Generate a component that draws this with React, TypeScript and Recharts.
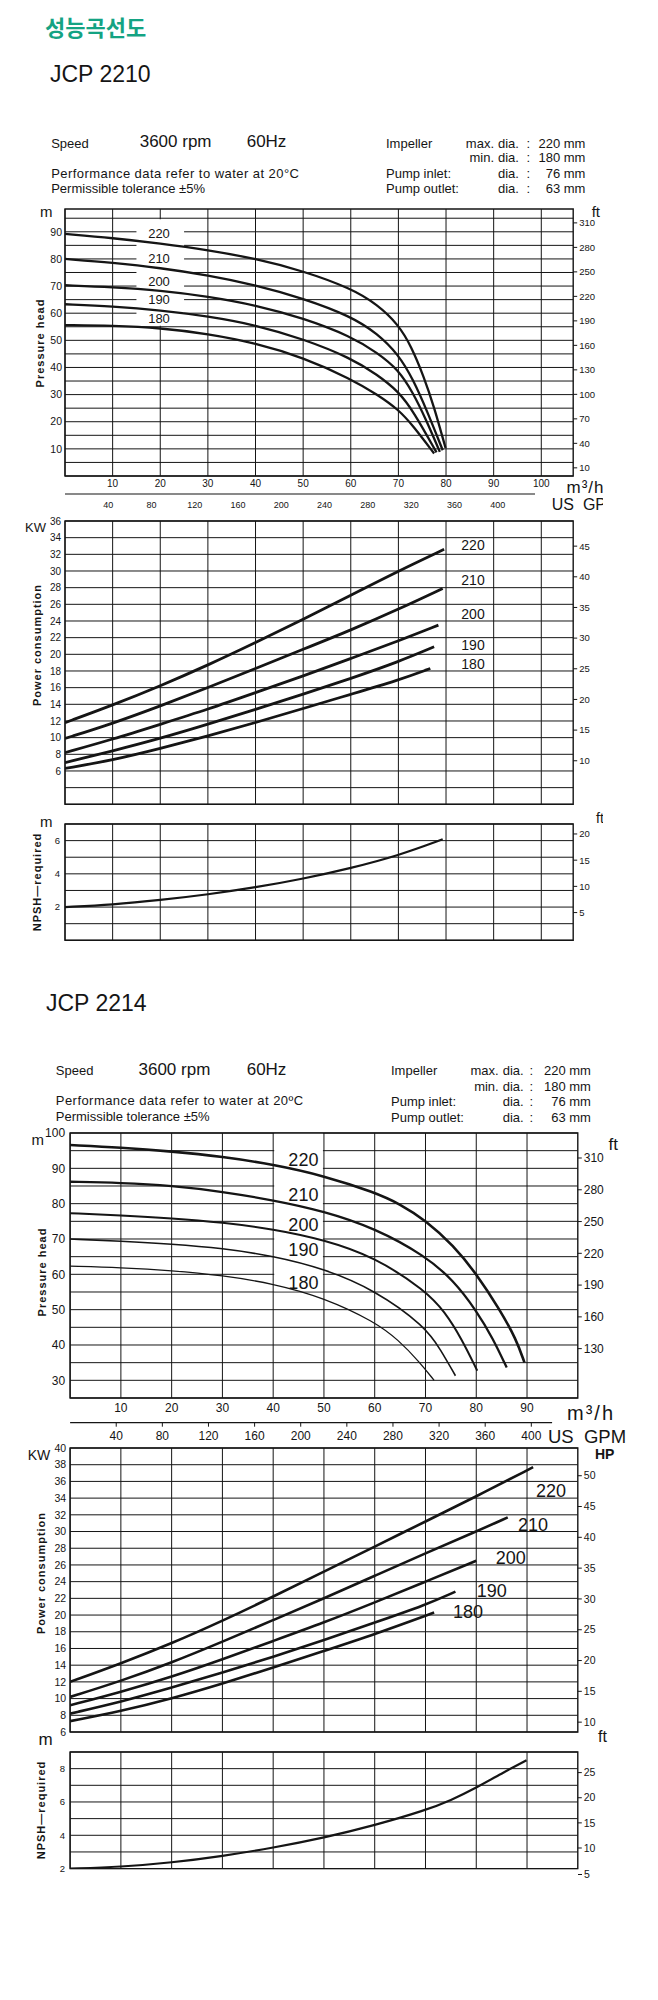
import React from "react";
import { LineChart, Line, XAxis, YAxis, CartesianGrid, ReferenceArea } from "recharts";

type Pt = [number, number];

// flow in m³/h, head in m, power in kW, NPSH in m
const head2210_220: Pt[] = [[0, 89.2], [10, 87.7], [20, 85.7], [30, 83.3], [40, 80.1], [50, 75.6], [60, 69.2], [65.6, 63.2], [70, 55.8], [72.7, 47.8], [75.3, 36.8], [77.5, 25.5], [79.9, 10.3]];
const head2210_210: Pt[] = [[0, 80], [10, 78.6], [20, 76.7], [30, 74], [40, 70.4], [50, 65.5], [60, 58.9], [65.6, 52.5], [70, 44.8], [73.1, 35.6], [76.2, 23.2], [79.3, 9.5]];
const head2210_200: Pt[] = [[0, 70.3], [10, 69.6], [20, 68.4], [30, 66.2], [40, 63], [50, 58.2], [60, 51.5], [65.6, 45.4], [70, 39.2], [73.1, 30.6], [75.8, 20.8], [78.7, 8.9]];
const head2210_190: Pt[] = [[0, 63.3], [10, 62.5], [20, 61.1], [30, 58.9], [40, 55.7], [50, 50.5], [60, 43.5], [65.6, 37.3], [70, 31.2], [73.1, 24], [78, 8.7]];
const head2210_180: Pt[] = [[0, 55.6], [10, 55.4], [20, 54.6], [30, 52.4], [40, 49], [50, 43.7], [60, 35.8], [65.6, 30], [70, 24.5], [73.1, 18.5], [77.5, 8.3]];

const kw2210_220: Pt[] = [[0, 11.8], [10, 13.9], [20, 16.2], [30, 18.7], [40, 21.4], [50, 24.2], [60, 27.1], [70, 30], [79.6, 32.6]];
const kw2210_210: Pt[] = [[0, 9.9], [10, 11.7], [20, 13.8], [30, 16], [40, 18.3], [50, 20.6], [60, 22.9], [70, 25.4], [79.3, 27.9]];
const kw2210_200: Pt[] = [[0, 8.2], [10, 9.8], [20, 11.6], [30, 13.4], [40, 15.4], [50, 17.4], [60, 19.5], [70, 21.6], [78.4, 23.5]];
const kw2210_190: Pt[] = [[0, 7], [10, 8.4], [20, 9.9], [30, 11.6], [40, 13.4], [50, 15.2], [60, 17.1], [70, 19.1], [77.5, 20.9]];
const kw2210_180: Pt[] = [[0, 6.3], [10, 7.3], [20, 8.7], [30, 10.2], [40, 11.8], [50, 13.5], [60, 15.2], [70, 16.9], [76.7, 18.3]];

const npsh2210: Pt[] = [[0, 2], [10, 2.14], [20, 2.42], [30, 2.76], [40, 3.18], [50, 3.7], [60, 4.34], [70, 5.1], [79.3, 6.08]];

const head2214_220: Pt[] = [[0, 96.6], [10, 95.9], [20, 94.8], [30, 93.3], [40, 91.1], [50, 87.9], [60, 83.2], [65, 79.9], [70, 75.3], [75.5, 68.2], [80, 60.2], [84.5, 50.3], [87.9, 41.6], [89.5, 35]];
const head2214_210: Pt[] = [[0, 86.2], [10, 85.9], [20, 85.1], [30, 83.4], [40, 81], [50, 77.9], [60, 73.1], [70, 65.2], [75.5, 58.3], [80, 49.8], [83.3, 41.8], [86, 33.6]];
const head2214_200: Pt[] = [[0, 77.3], [10, 76.7], [20, 75.9], [30, 74.7], [40, 72.8], [50, 69.8], [60, 64.9], [70, 55.4], [73.8, 49.4], [77.1, 41.8], [80.2, 32.7]];
const head2214_190: Pt[] = [[0, 70], [10, 69.4], [20, 68.6], [30, 67.4], [40, 65.2], [50, 61.6], [60, 55.6], [70, 45.2], [73, 38.6], [75.9, 31.3]];
const head2214_180: Pt[] = [[0, 62.3], [10, 61.9], [20, 61.1], [30, 59.7], [40, 57.4], [50, 53.4], [60, 46.6], [64.7, 41.4], [68.8, 35.2], [71.7, 30]];

const kw2214_220: Pt[] = [[0, 12], [10, 14.2], [20, 16.6], [30, 19.3], [40, 22.2], [50, 25.2], [60, 28.2], [70, 31.2], [80, 34.2], [91.2, 37.7]];
const kw2214_210: Pt[] = [[0, 10.2], [10, 12.1], [20, 14.3], [30, 16.8], [40, 19.4], [50, 22], [60, 24.7], [70, 27.4], [80, 30], [86.2, 31.7]];
const kw2214_200: Pt[] = [[0, 9.2], [10, 10.8], [20, 12.6], [30, 14.7], [40, 16.9], [50, 19.1], [60, 21.5], [70, 24], [80, 26.5]];
const kw2214_190: Pt[] = [[0, 8.2], [10, 9.6], [20, 11.3], [30, 13.1], [40, 15], [50, 17], [60, 19.1], [70, 21.2], [75.9, 22.8]];
const kw2214_180: Pt[] = [[0, 7.3], [10, 8.5], [20, 10], [30, 11.8], [40, 13.7], [50, 15.7], [60, 17.7], [71.7, 20.3]];

const npsh2214: Pt[] = [[0, 2], [10, 2.1], [20, 2.36], [30, 2.75], [40, 3.25], [50, 3.85], [60, 4.6], [70, 5.5], [75, 6.1], [80, 6.85], [85.5, 7.8], [89.9, 8.5]];

const DIAMETERS = ["220", "210", "200", "190", "180"];
const GPM_PER_M3H = 4.403;

const FLOW_TICKS_2210 = [0, 10, 20, 30, 40, 50, 60, 70, 80, 90, 100];
const FLOW_TICKS_2214 = [0, 10, 20, 30, 40, 50, 60, 70, 80, 90];
const GPM_TICKS = [40, 80, 120, 160, 200, 240, 280, 320, 360, 400];

const HEAD_TICKS_2210 = [0, 5, 10, 15, 20, 25, 30, 35, 40, 45, 50, 55, 60, 65, 70, 75, 80, 85, 90, 95];
const HEAD_LABELS_2210 = [10, 20, 30, 40, 50, 60, 70, 80, 90];
const FT_TICKS_2210 = [10, 40, 70, 100, 130, 160, 190, 220, 250, 280, 310];
const KW_TICKS_2210 = [2, 4, 6, 8, 10, 12, 14, 16, 18, 20, 22, 24, 26, 28, 30, 32, 34, 36];
const KW_LABELS_2210 = [6, 8, 10, 12, 14, 16, 18, 20, 22, 24, 26, 28, 30, 32, 34, 36];
const HP_TICKS_2210 = [10, 15, 20, 25, 30, 35, 40, 45];
const NPSH_TICKS_2210 = [0, 1, 2, 3, 4, 5, 6, 7];
const NPSH_LABELS_2210 = [2, 4, 6];
const NPSH_FT_2210 = [5, 10, 15, 20];

const HEAD_TICKS_2214 = [25, 30, 35, 40, 45, 50, 55, 60, 65, 70, 75, 80, 85, 90, 95, 100];
const HEAD_LABELS_2214 = [30, 40, 50, 60, 70, 80, 90, 100];
const FT_TICKS_2214 = [130, 160, 190, 220, 250, 280, 310];
const KW_TICKS_2214 = [6, 8, 10, 12, 14, 16, 18, 20, 22, 24, 26, 28, 30, 32, 34, 36, 38, 40];
const HP_TICKS_2214 = [10, 15, 20, 25, 30, 35, 40, 45, 50];
const NPSH_TICKS_2214 = [2, 3, 4, 5, 6, 7, 8, 9];
const NPSH_LABELS_2214 = [2, 4, 6, 8];
const NPSH_FT_2214 = [10, 15, 20, 25];

const SPEC_ROWS = [
  ["Impeller", "max.", "220 mm"],
  ["", "min.", "180 mm"],
  ["Pump inlet:", "", "76 mm"],
  ["Pump outlet:", "", "63 mm"],
];

const FONT = '"Liberation Sans", Arial, Helvetica, sans-serif';
const INK = "#151515";

function T({ x, y, size = 13, anchor = "start", bold = false, rotate = false, spacing = 0, color = INK, family = FONT, children }: any) {
  const tx = anchor === "middle" ? "-50%" : anchor === "end" ? "-100%" : "0";
  const transform = rotate ? "translate(-50%, -50%) rotate(-90deg)" : `translate(${tx}, -50%)`;
  return (
    <div style={{ position: "absolute", left: x, top: y, transform, fontSize: size, lineHeight: 1, whiteSpace: "pre", fontWeight: bold ? 700 : 400, letterSpacing: spacing, color, fontFamily: family }}>
      {children}
    </div>
  );
}

type Series = { pts: Pt[]; w: number };
type Cfg = {
  top: number; bottom: number; left: number; right: number;
  xMax: number; xTicks: number[];
  yMin: number; yMax: number; yTicks: number[]; yShow: number[];
  rMin: number; rMax: number; rTicks: number[];
  series: Series[];
  box?: { x1: number; x2: number; y1: number; y2: number };
  flow?: { qH: number; gpmH: number; qFont: number; gpmFont: number; qGap: number; gpmTick: number; gpmGap: number; lineLen: number };
  lFont: number; lGap: number; rFont: number;
};

function Panel({ c }: { c: Cfg }) {
  const mt = 12;
  const mb = 6;
  const axisH = c.flow ? c.flow.qH + c.flow.gpmH : 0;
  const h = mt + (c.bottom - c.top) + axisH + mb;
  const tick = (size: number) => ({ fontSize: size, fill: INK, fontFamily: FONT });
  const gpmRows = GPM_TICKS.map((g) => ({ gpm: g }));
  return (
    <div style={{ position: "absolute", left: 0, top: c.top - mt }}>
      <LineChart width={658} height={h} data={c.flow ? gpmRows : undefined} margin={{ top: mt, right: 0, bottom: mb, left: 0 }}>
        <CartesianGrid stroke={INK} strokeWidth={1} verticalValues={c.xTicks} horizontalValues={c.yTicks} />
        <XAxis
          type="number" dataKey="q" domain={[0, c.xMax]} ticks={c.xTicks} allowDataOverflow interval={0}
          hide={!c.flow} height={c.flow ? c.flow.qH : 0} axisLine={false} tickLine={false} tickSize={0}
          tickMargin={c.flow ? c.flow.qGap : 0} tick={tick(c.flow ? c.flow.qFont : 10)}
          tickFormatter={(v: number) => (v === 0 ? "" : String(v))}
        />
        {c.flow && (
          <XAxis
            xAxisId="gpm" dataKey="gpm" type="number" domain={[0, c.xMax * GPM_PER_M3H]} ticks={GPM_TICKS} allowDataOverflow interval={0}
            height={c.flow.gpmH} axisLine={{ stroke: INK, strokeWidth: 1.2, strokeDasharray: `${c.flow.lineLen} 3000` }}
            tickLine={c.flow.gpmTick > 0 ? { stroke: INK } : false} tickSize={c.flow.gpmTick}
            tickMargin={c.flow.gpmGap} tick={tick(c.flow.gpmFont)}
          />
        )}
        <YAxis
          type="number" domain={[c.yMin, c.yMax]} ticks={c.yTicks} allowDataOverflow interval={0}
          width={c.left} axisLine={false} tickLine={false} tickSize={0} tickMargin={c.lGap} tick={tick(c.lFont)}
          tickFormatter={(v: number) => (c.yShow.includes(v) ? String(v) : "")}
        />
        <YAxis
          yAxisId="r" orientation="right" type="number" domain={[c.rMin, c.rMax]} ticks={c.rTicks} allowDataOverflow interval={0}
          width={658 - c.right} axisLine={false} tickLine={{ stroke: INK }} tickSize={4} tickMargin={2} tick={tick(c.rFont)}
        />
        {c.box && <ReferenceArea x1={c.box.x1} x2={c.box.x2} y1={c.box.y1} y2={c.box.y2} fill="#ffffff" fillOpacity={1} stroke="none" />}
        {c.series.map((s, i) => (
          <Line
            key={i} type="basis" data={s.pts.map(([q, v]) => ({ q, v }))} dataKey="v"
            stroke={INK} strokeWidth={s.w} dot={false} activeDot={false} isAnimationActive={false}
          />
        ))}
        <ReferenceArea x1={0} x2={c.xMax} y1={c.yMin} y2={c.yMax} fill="none" stroke={INK} strokeWidth={1.4} />
      </LineChart>
    </div>
  );
}

function Header(p: { title: string; titleX: number; titleY: number; L: number; rpmX: number; hzX: number; r1: number; perfY: number; permY: number; degree: string; R: number; diaX: number; colonX: number; valEnd: number; rows: number[] }) {
  return (
    <>
      <T x={p.titleX} y={p.titleY} size={23}>{p.title}</T>
      <T x={p.L} y={p.r1} size={13}>Speed</T>
      <T x={p.rpmX} y={p.r1 - 1.5} size={17}>3600 rpm</T>
      <T x={p.hzX} y={p.r1 - 1.5} size={17}>60Hz</T>
      <T x={p.L} y={p.perfY} size={13} spacing={0.45}>{`Performance data refer to water at 20${p.degree}C`}</T>
      <T x={p.L} y={p.permY} size={13}>Permissible tolerance ±5%</T>
      {SPEC_ROWS.map((row, i) => (
        <React.Fragment key={i}>
          {row[0] && <T x={p.R} y={p.rows[i]} size={13}>{row[0]}</T>}
          {row[1] && <T x={p.diaX - 4} y={p.rows[i]} size={13} anchor="end">{row[1]}</T>}
          <T x={p.diaX} y={p.rows[i]} size={13}>dia.</T>
          <T x={p.colonX} y={p.rows[i]} size={13}>:</T>
          <T x={p.valEnd} y={p.rows[i]} size={13} anchor="end">{row[2]}</T>
        </React.Fragment>
      ))}
    </>
  );
}

const head2210: Cfg = {
  top: 209, bottom: 476, left: 65, right: 573.2,
  xMax: 106.7, xTicks: FLOW_TICKS_2210,
  yMin: 0, yMax: 98.4, yTicks: HEAD_TICKS_2210, yShow: HEAD_LABELS_2210,
  rMin: 0, rMax: 327, rTicks: FT_TICKS_2210,
  series: [head2210_220, head2210_210, head2210_200, head2210_190, head2210_180].map((pts) => ({ pts, w: 2.3 })),
  box: { x1: 15, x2: 25, y1: 55.4, y2: 94.6 },
  flow: { qH: 18, gpmH: 22, qFont: 10, gpmFont: 9, qGap: 4, gpmTick: 0, gpmGap: 8, lineLen: 470 },
  lFont: 10.5, lGap: 3, rFont: 9.5,
};

const kw2210: Cfg = {
  top: 520.7, bottom: 804, left: 65, right: 573.2,
  xMax: 106.7, xTicks: FLOW_TICKS_2210,
  yMin: 2, yMax: 36, yTicks: KW_TICKS_2210, yShow: KW_LABELS_2210,
  rMin: 2.9, rMax: 49.1, rTicks: HP_TICKS_2210,
  series: [kw2210_220, kw2210_210, kw2210_200, kw2210_190, kw2210_180].map((pts) => ({ pts, w: 2.8 })),
  lFont: 10, lGap: 4, rFont: 9.5,
};

const npshCfg2210: Cfg = {
  top: 824, bottom: 940.3, left: 65, right: 573.2,
  xMax: 106.7, xTicks: FLOW_TICKS_2210,
  yMin: 0, yMax: 7, yTicks: NPSH_TICKS_2210, yShow: NPSH_LABELS_2210,
  rMin: -0.29, rMax: 21.9, rTicks: NPSH_FT_2210,
  series: [{ pts: npsh2210, w: 2.2 }],
  lFont: 9.5, lGap: 5, rFont: 9.5,
};

const head2214: Cfg = {
  top: 1133.3, bottom: 1398.3, left: 70.1, right: 577.8,
  xMax: 100, xTicks: FLOW_TICKS_2214,
  yMin: 25, yMax: 100, yTicks: HEAD_TICKS_2214, yShow: HEAD_LABELS_2214,
  rMin: 83.4, rMax: 333.6, rTicks: FT_TICKS_2214,
  series: [
    { pts: head2214_220, w: 2.6 }, { pts: head2214_210, w: 2.3 }, { pts: head2214_200, w: 2 },
    { pts: head2214_190, w: 1.6 }, { pts: head2214_180, w: 1.3 },
  ],
  box: { x1: 40.2, x2: 49.8, y1: 55.2, y2: 100 },
  flow: { qH: 24.7, gpmH: 26, qFont: 12, gpmFont: 12, qGap: 5, gpmTick: 4, gpmGap: 5, lineLen: 482 },
  lFont: 12, lGap: 5, rFont: 12,
};

const kw2214: Cfg = {
  top: 1448.3, bottom: 1732.3, left: 70.1, right: 577.8,
  xMax: 100, xTicks: FLOW_TICKS_2214,
  yMin: 6, yMax: 40, yTicks: KW_TICKS_2214, yShow: KW_TICKS_2214,
  rMin: 8.4, rMax: 54.5, rTicks: HP_TICKS_2214,
  series: [kw2214_220, kw2214_210, kw2214_200, kw2214_190, kw2214_180].map((pts) => ({ pts, w: 2.6 })),
  lFont: 10.5, lGap: 4, rFont: 10.5,
};

const npshCfg2214: Cfg = {
  top: 1751.7, bottom: 1868.3, left: 70.1, right: 577.8,
  xMax: 100, xTicks: FLOW_TICKS_2214,
  yMin: 2, yMax: 9, yTicks: NPSH_TICKS_2214, yShow: NPSH_LABELS_2214,
  rMin: 5.9, rMax: 29.1, rTicks: NPSH_FT_2214,
  series: [{ pts: npsh2214, w: 2.2 }],
  lFont: 9.5, lGap: 5, rFont: 10.5,
};

export default function App() {
  return (
    <div style={{ position: "absolute", left: 0, top: 0, width: 658, height: 2000, background: "#fff", fontFamily: FONT, color: INK }}>
      {/* JCP 2210 — right side is cut off in the source */}
      <div style={{ position: "absolute", left: 0, top: 0, width: 603, height: 975, overflow: "hidden" }}>
        <T x={45} y={26} size={22} bold color="#14a383" family='"Noto Sans CJK KR", sans-serif'>성능곡선도</T>
        <Header
          title="JCP 2210" titleX={50} titleY={74} L={51.2} rpmX={139.7} hzX={246.7} r1={142.7} perfY={173} permY={187.5}
          degree="°" R={386} diaX={498} colonX={526.6} valEnd={585.4} rows={[143, 157, 173, 188]}
        />
        <Panel c={head2210} />
        <Panel c={kw2210} />
        <Panel c={npshCfg2210} />

        <T x={40} y={211} size={15}>m</T>
        <T x={591.7} y={211} size={15}>ft</T>
        <T x={40} y={343} size={11} bold rotate spacing={1}>Pressure head</T>
        {DIAMETERS.map((d, i) => <T key={d} x={159} y={[233.3, 258, 281, 299.3, 318][i]} size={13} anchor="middle">{d}</T>)}
        <T x={566.5} y={486.7} size={17} spacing={1}>m³/h</T>
        <T x={551.8} y={505} size={16}>US  GPM</T>

        <T x={25} y={526.7} size={13}>KW</T>
        <T x={36.5} y={645} size={11} bold rotate spacing={1}>Power consumption</T>
        {DIAMETERS.map((d, i) => <T key={d} x={473} y={[545, 580, 614.3, 645, 664.3][i]} size={14} anchor="middle">{d}</T>)}

        <T x={40} y={821} size={15}>m</T>
        <T x={596} y={818} size={14}>ft</T>
        <T x={37} y={881.7} size={11} bold rotate spacing={1}>NPSH—required</T>
      </div>

      {/* JCP 2214 */}
      <Header
        title="JCP 2214" titleX={46} titleY={1002.7} L={55.8} rpmX={138.5} hzX={246.7} r1={1070} perfY={1100} permY={1116}
        degree="º" R={391} diaX={502.7} colonX={529.6} valEnd={590.9} rows={[1070, 1086, 1101, 1117]}
      />
      <Panel c={head2214} />
      <Panel c={kw2214} />
      <Panel c={npshCfg2214} />

      <T x={31.5} y={1139} size={15}>m</T>
      <T x={608.5} y={1144} size={17}>ft</T>
      <T x={42} y={1271.7} size={11} bold rotate spacing={1}>Pressure head</T>
      {DIAMETERS.map((d, i) => <T key={d} x={303.4} y={[1160, 1195, 1225, 1250, 1283.3][i]} size={18} anchor="middle">{d}</T>)}
      <T x={567} y={1413} size={20} spacing={2}>m³/h</T>
      <T x={548} y={1437} size={18.5}>US  GPM</T>

      <T x={27.7} y={1455} size={14}>KW</T>
      <T x={595} y={1454} size={14} bold>HP</T>
      <T x={41} y={1573.3} size={11} bold rotate spacing={1}>Power consumption</T>
      {DIAMETERS.map((d, i) => (
        <T key={d} x={[551, 533, 510.7, 491.8, 468][i]} y={[1490.7, 1525, 1558, 1590.7, 1611.7][i]} size={18} anchor="middle">{d}</T>
      ))}

      <T x={38.6} y={1739} size={17}>m</T>
      <T x={598} y={1737} size={16}>ft</T>
      <T x={41} y={1810} size={11} bold rotate spacing={1}>NPSH—required</T>
      <div style={{ position: "absolute", left: 577.8, top: 1874, width: 4, height: 1, background: INK }} />
      <T x={584} y={1874} size={10.5}>5</T>
    </div>
  );
}
